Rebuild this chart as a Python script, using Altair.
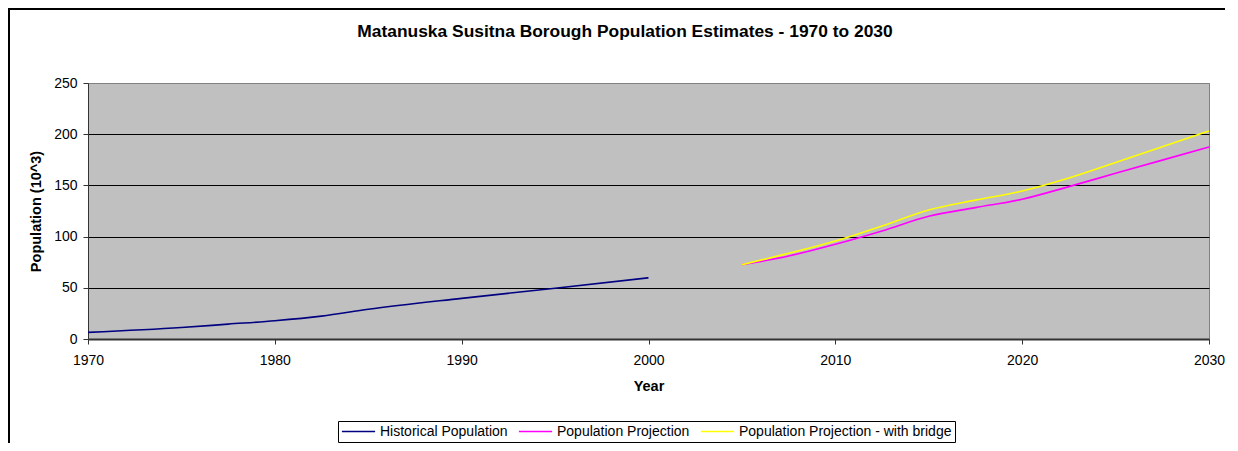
import altair as alt
import pandas as pd

# ---- data (values in thousands) ----
hist_years = [1970, 1975, 1977.5, 1980, 1982.5, 1985, 1990, 1995, 2000]
hist_vals = [6.5, 11.2, 14.5, 17.8, 22.3, 29.0, 39.7, 49.6, 59.8]

proj_years = [2005, 2007.5, 2010, 2012.5, 2015, 2017.5, 2020, 2022.5, 2025, 2027.5, 2030]
proj_vals = [72.6, 81.0, 92.5, 105.5, 119.8, 128.3, 136.5, 148.8, 161.8, 174.7, 187.5]
bridge_vals = [72.6, 83.7, 95.8, 110.4, 126.0, 135.6, 144.5, 157.2, 172.4, 187.7, 203.1]

series_names = ["Historical Population", "Population Projection",
                "Population Projection - with bridge"]
series_colors = ["#000080", "#FF00FF", "#FFFF00"]
x_ticks = [1970, 1980, 1990, 2000, 2010, 2020, 2030]
y_ticks = [0, 50, 100, 150, 200, 250]
chart_title = "Matanuska Susitna Borough Population Estimates - 1970 to 2030"

rows = []
for yr, v in zip(hist_years, hist_vals):
    rows.append({"Year": yr, "Population": v, "Series": series_names[0]})
for yr, v in zip(proj_years, proj_vals):
    rows.append({"Year": yr, "Population": v, "Series": series_names[1]})
for yr, v in zip(proj_years, bridge_vals):
    rows.append({"Year": yr, "Population": v, "Series": series_names[2]})
df = pd.DataFrame(rows)

FONT = "Liberation Sans"
PW, PH = 1121, 256
PAD = {"left": 80, "top": 75, "right": 16, "bottom": 104}

lines = alt.Chart(df).mark_line(strokeWidth=1.6, interpolate="monotone").encode(
    x=alt.X("Year:Q",
            scale=alt.Scale(domain=[1970, 2030], nice=False, zero=False),
            axis=alt.Axis(values=x_ticks, format="d", title="Year", grid=False,
                          labelFlush=False, labelPadding=9, tickSize=5, domainWidth=2,
                          titleY=47, titleBaseline="middle")),
    y=alt.Y("Population:Q",
            scale=alt.Scale(domain=[0, 250], nice=False),
            axis=alt.Axis(values=y_ticks, title="Population (10^3)", grid=True,
                          gridColor={"condition": {"test": "datum.value >= 250 || datum.value <= 0",
                                                   "value": "#808080"},
                                     "value": "#000000"},
                          gridWidth=1, labelPadding=6, tickSize=5, labelFlush=False,
                          titleX=-52, titleY=128, titleAlign="center",
                          titleBaseline="middle", titleAngle=270)),
    color=alt.Color("Series:N",
                    scale=alt.Scale(domain=series_names, range=series_colors),
                    legend=alt.Legend(title=None, orient="none", legendX=250, legendY=338,
                                      direction="horizontal", symbolType="stroke",
                                      symbolSize=1100, symbolStrokeWidth=1.6,
                                      clipHeight=15, labelLimit=400,
                                      labelFont=FONT, labelFontSize=14, labelColor="black",
                                      labelOffset=4, columnPadding=10, padding=3,
                                      strokeColor="black", fillColor="white")),
)

one = pd.DataFrame({"t": [chart_title]})

title_mark = alt.Chart(one).mark_text(
    font=FONT, fontSize=17.4, fontWeight="bold", color="black",
    align="center", baseline="middle"
).encode(text="t:N", x=alt.value(537), y=alt.value(-51))

# decorative outer chart frame: thin filled bands along the left and top edges
L = -PAD["left"]
T = -PAD["top"]
frame_left = alt.Chart(one).mark_rect(color="black", strokeWidth=0).encode(
    x=alt.value(L), x2=alt.value(L + 2), y=alt.value(T), y2=alt.value(PH + PAD["bottom"]))
frame_top = alt.Chart(one).mark_rect(color="black", strokeWidth=0).encode(
    x=alt.value(L), x2=alt.value(PW + PAD["right"]), y=alt.value(T), y2=alt.value(T + 2))

chart = alt.layer(frame_left, frame_top, title_mark, lines).properties(
    width=PW, height=PH,
    autosize=alt.AutoSizeParams(type="none"),
    padding=PAD,
).configure_view(
    fill="#C0C0C0", stroke="#808080", strokeWidth=1
).configure_axis(
    labelFont=FONT, labelFontSize=14, labelColor="black",
    titleFont=FONT, titleFontSize=14.5, titleFontWeight="bold", titleColor="black",
    domainColor="#333333", tickColor="#333333"
)

chart.save("out.html", embed_options={"renderer": "svg", "actions": False})
